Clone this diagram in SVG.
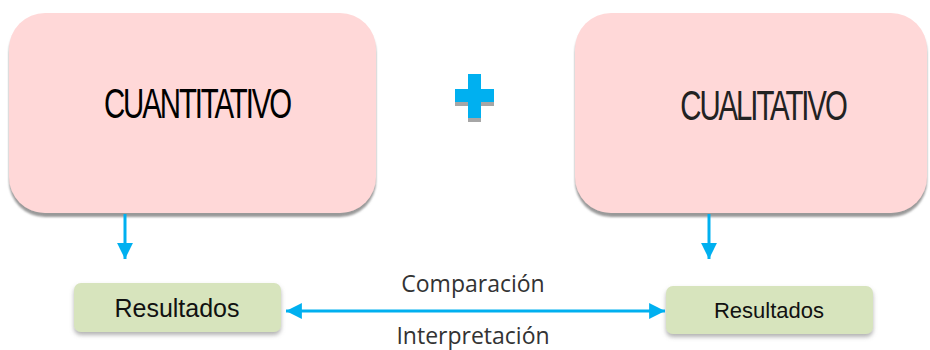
<svg xmlns="http://www.w3.org/2000/svg" width="930" height="350" viewBox="0 0 930 350">
<defs>
<style>
.big{fill:#FFD8D8;}
.res{fill:#D7E4BD;}
.bt{font-family:"Liberation Sans",Arial,sans-serif;font-size:42px;letter-spacing:-3px;text-anchor:middle;}
.rt{font-family:"Liberation Sans",Arial,sans-serif;fill:#111;text-anchor:middle;}
.lbl{font-family:"Open Sans","DejaVu Sans",sans-serif;font-size:23px;fill:#333;text-anchor:middle;}
.con{stroke:#00B0F0;stroke-width:3;fill:none;}
</style>
<filter id="sh" x="-10%" y="-10%" width="120%" height="130%">
<feDropShadow dx="0" dy="4" stdDeviation="1" flood-color="#808080" flood-opacity="0.8"/>
</filter>
<filter id="sh2" x="-10%" y="-20%" width="120%" height="150%">
<feDropShadow dx="0" dy="3" stdDeviation="2" flood-color="#808080" flood-opacity="0.6"/>
</filter>
<marker id="ah" viewBox="0 0 10 10" refX="10" refY="5" markerWidth="5.3" markerHeight="5.3" orient="auto-start-reverse" markerUnits="strokeWidth">
<path d="M0,0 L10,5 L0,10 z" fill="#00B0F0"/>
</marker>
</defs>
<g id="cuantitativo">
<rect class="big" x="9" y="13" width="367" height="200" rx="36" filter="url(#sh)"/>
<text class="bt" transform="translate(197,118) scale(0.7,1)" x="0" y="0" fill="#000">CUANTITATIVO</text>
</g>
<g id="plus">
<rect x="468" y="78" width="13" height="44" fill="#A6A6A6"/>
<rect x="455" y="93" width="39" height="13" fill="#A6A6A6"/>
<rect x="468" y="74" width="13" height="44" fill="#00B0F0"/>
<rect x="455" y="89" width="39" height="13" fill="#00B0F0"/>
</g>
<g id="cualitativo">
<rect class="big" x="575" y="13" width="352" height="200" rx="36" filter="url(#sh)"/>
<text class="bt" transform="translate(763,120) scale(0.7,1)" x="0" y="0" fill="#222">CUALITATIVO</text>
</g>
<g id="resultados1">
<rect class="res" x="74" y="283" width="207" height="49" rx="7" filter="url(#sh2)"/>
<text class="rt" x="177" y="317" font-size="25">Resultados</text>
</g>
<g id="resultados2">
<rect class="res" x="666" y="286" width="207" height="48" rx="7" filter="url(#sh2)"/>
<text class="rt" x="769" y="318" font-size="22" fill="#222">Resultados</text>
</g>
<g id="connectors">
<line class="con" x1="125" y1="214" x2="125" y2="259" marker-end="url(#ah)"/>
<line class="con" x1="709" y1="214" x2="709" y2="259" marker-end="url(#ah)"/>
<line class="con" x1="286" y1="311" x2="665" y2="311" marker-start="url(#ah)" marker-end="url(#ah)"/>
<text class="lbl" x="473" y="292">Comparación</text>
<text class="lbl" x="473" y="344" font-size="22">Interpretación</text>
</g>
</svg>
